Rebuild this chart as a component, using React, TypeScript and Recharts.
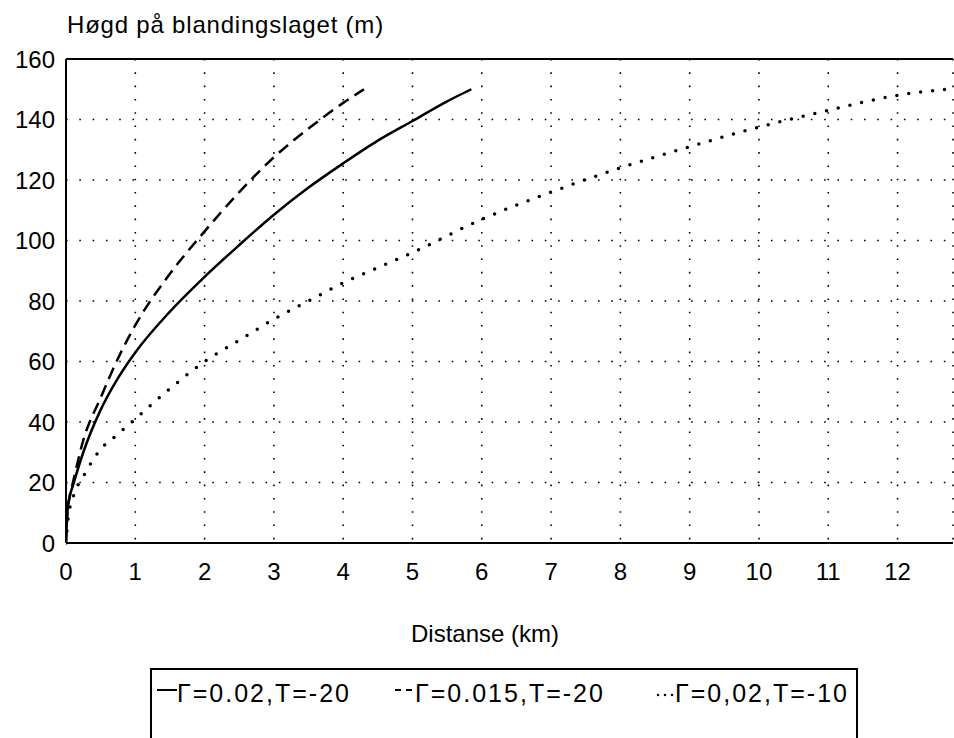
import React from 'react';
import { LineChart, Line, XAxis, YAxis, CartesianGrid, ReferenceLine, Legend } from 'recharts';

const FONT = '"Liberation Sans", Arial, Helvetica, sans-serif';

const xTicks = [0, 1, 2, 3, 4, 5, 6, 7, 8, 9, 10, 11, 12];
const yTicks = [0, 20, 40, 60, 80, 100, 120, 140, 160];

// Γ=0.02, T=-20 (solid)
const solidDist = [0, 0.02, 0.05, 0.1, 0.25, 0.5, 0.75, 1, 1.5, 2, 2.5, 3, 3.5, 4, 4.5, 5, 5.5, 5.85];
const solidHeight = [0, 10, 15, 19, 30, 44, 54.5, 63, 76.5, 88, 98.5, 108.5, 117.5, 125.5, 133, 139.5, 146, 150];

// Γ=0.015, T=-20 (dashed)
const dashDist = [0, 0.02, 0.05, 0.1, 0.25, 0.5, 0.75, 1, 1.5, 2, 2.5, 3, 3.5, 4, 4.3];
const dashHeight = [0, 10, 15, 20, 34, 48, 61, 72, 89, 103, 116, 127.5, 137, 145.5, 150];

// Γ=0,02, T=-10 (dotted)
const dotDist = [0, 0.03, 0.1, 0.25, 0.5, 0.75, 1, 1.5, 2, 2.5, 3, 3.5, 4, 4.5, 5, 6, 7, 8, 9, 10, 11, 12, 12.7];
const dotHeight = [0, 8, 15, 22, 31, 36, 41, 51, 60, 67, 74, 80, 86, 91, 96, 107, 116, 124, 131, 137.5, 143, 148, 150];

const legendNames = ['Γ=0.02,T=-20', 'Γ=0.015,T=-20', 'Γ=0,02,T=-10'];

const zip = (xs: number[], ys: number[]) => xs.map((x, i) => ({ x, y: ys[i] }));

const series = [
  { name: legendNames[0], data: zip(solidDist, solidHeight), dash: undefined as string | undefined, width: 2.5, cap: 'butt' },
  { name: legendNames[1], data: zip(dashDist, dashHeight), dash: '12 7', width: 2.5, cap: 'butt' },
  { name: legendNames[2], data: zip(dotDist, dotHeight), dash: '0 12', width: 3.5, cap: 'round' },
];

const itemLeft = [5, 243, 503];
const sampleDash = [undefined, '6 5', '0 7'];

const LegendBox = () => (
  <div style={{ position: 'relative', width: '100%', height: '100%', fontFamily: FONT, color: '#000' }}>
    {series.map((s, i) => (
      <div
        key={s.name}
        style={{ position: 'absolute', left: itemLeft[i], top: 8, display: 'flex', alignItems: 'center', whiteSpace: 'nowrap' }}
      >
        <svg width={20} height={30}>
          <line
            x1={i === 2 ? 3 : 0}
            y1={i === 2 ? 17 : 12}
            x2={20}
            y2={i === 2 ? 17 : 12}
            stroke="#000"
            strokeWidth={i === 2 ? 2.5 : 2}
            strokeDasharray={sampleDash[i]}
            strokeLinecap={i === 2 ? 'round' : 'butt'}
          />
        </svg>
        <span style={{ fontSize: 25, letterSpacing: 2 }}>{s.name}</span>
      </div>
    ))}
  </div>
);

export default function App() {
  return (
    <div
      style={{
        position: 'absolute',
        left: 0,
        top: 0,
        width: 954,
        height: 738,
        overflow: 'hidden',
        background: '#fff',
        fontFamily: FONT,
      }}
    >
      <LineChart width={954} height={738} margin={{ top: 59, right: 1, bottom: 135, left: 0 }}>
        <CartesianGrid stroke="#000" strokeWidth={1.6} strokeDasharray="1.6 11.7" />
        <XAxis
          type="number"
          dataKey="x"
          domain={[0, 12.8]}
          ticks={xTicks}
          allowDataOverflow
          height={60}
          tickSize={0}
          tickMargin={20}
          axisLine={{ stroke: '#000', strokeWidth: 2 }}
          tick={{ fill: '#000', fontSize: 24, fontFamily: FONT }}
          label={(p: any) => (
            <text
              x={(p.viewBox?.x ?? 66) + 419}
              y={(p.viewBox?.y ?? 543) + 99}
              textAnchor="middle"
              fill="#000"
              fontSize={24}
              fontFamily={FONT}
            >
              Distanse (km)
            </text>
          )}
        />
        <YAxis
          type="number"
          dataKey="y"
          domain={[0, 160]}
          ticks={yTicks}
          width={66}
          tickSize={0}
          tickMargin={11}
          axisLine={{ stroke: '#000', strokeWidth: 2 }}
          tick={{ fill: '#000', fontSize: 24, fontFamily: FONT }}
          label={(p: any) => (
            <text
              x={67}
              y={(p.viewBox?.y ?? 59) - 26}
              textAnchor="start"
              fill="#000"
              fontSize={24}
              letterSpacing={0.8}
              fontFamily={FONT}
            >
              Høgd på blandingslaget (m)
            </text>
          )}
        />
        <ReferenceLine y={160} stroke="#000" strokeWidth={2} />
        {series.map((s) => (
          <Line
            key={s.name}
            data={s.data}
            dataKey="y"
            type="monotone"
            stroke="#000"
            strokeWidth={s.width}
            strokeDasharray={s.dash}
            strokeLinecap={s.cap as any}
            dot={false}
            activeDot={false}
            isAnimationActive={false}
          />
        ))}
        <Legend
          layout="horizontal"
          verticalAlign="middle"
          align="center"
          wrapperStyle={{
            left: 150,
            top: 668,
            width: 708,
            height: 90,
            border: '2px solid #000',
            boxSizing: 'border-box',
          }}
          content={() => <LegendBox />}
        />
      </LineChart>
    </div>
  );
}
